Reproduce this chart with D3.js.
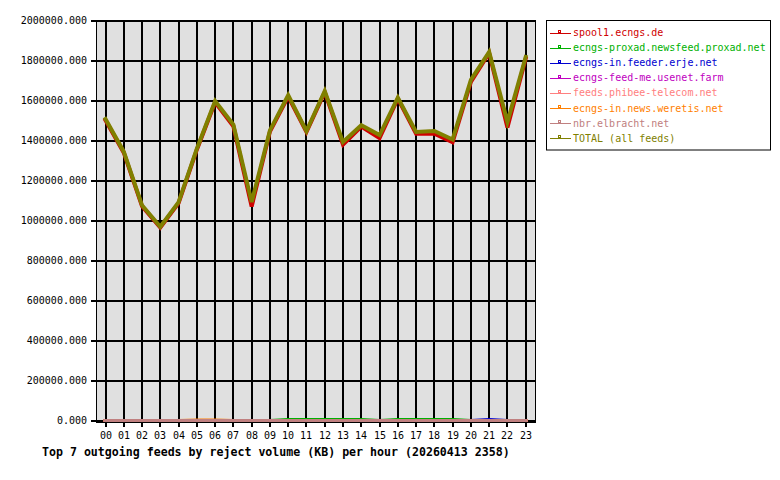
<!DOCTYPE html>
<html>
<head>
<meta charset="utf-8">
<script src="https://cdn.jsdelivr.net/npm/d3@7/dist/d3.min.js"></script>
<style>
  html, body { margin: 0; padding: 0; background: #ffffff; }
  svg { display: block; }
</style>
</head>
<body>
<script>
// ---- data ----
const hours = ["00","01","02","03","04","05","06","07","08","09","10","11","12","13","14","15","16","17","18","19","20","21","22","23"];
const yTicks = [0, 200000, 400000, 600000, 800000, 1000000, 1200000, 1400000, 1600000, 1800000, 2000000];

const seriesNames = [
  "spool1.ecngs.de",
  "ecngs-proxad.newsfeed.proxad.net",
  "ecngs-in.feeder.erje.net",
  "ecngs-feed-me.usenet.farm",
  "feeds.phibee-telecom.net",
  "ecngs-in.news.weretis.net",
  "nbr.elbracht.net",
  "TOTAL (all feeds)"
];
const seriesColors = ["#d00000", "#00b000", "#0000d0", "#c000c0", "#ff8080", "#ff8000", "#c08080", "#808000"];

const spool1 = [1502000, 1340000, 1072000, 966000, 1088000, 1355000, 1592000, 1472000, 1071000, 1445000, 1620000, 1443000, 1642000, 1380000, 1470000, 1413000, 1610000, 1435000, 1435000, 1392000, 1693000, 1838000, 1466000, 1810000];
const proxad = [0, 0, 0, 0, 0, 0, 0, 0, 0, 0, 5500, 5500, 5500, 5500, 5500, 0, 5500, 5500, 5500, 5500, 0, 0, 0, 0];
const erje = [0, 0, 0, 0, 0, 0, 0, 0, 0, 0, 0, 0, 0, 0, 0, 0, 0, 0, 0, 0, 0, 5500, 0, 0];
const usenetFarm = [0, 0, 0, 0, 0, 0, 0, 0, 0, 0, 0, 0, 0, 0, 0, 0, 0, 0, 0, 0, 0, 0, 0, 0];
const phibee = [0, 0, 0, 0, 0, 0, 0, 0, 0, 0, 0, 0, 0, 0, 0, 0, 0, 0, 0, 0, 0, 0, 0, 0];
const weretis = [0, 0, 0, 0, 0, 3000, 3000, 0, 0, 0, 0, 0, 0, 0, 0, 0, 0, 0, 0, 0, 0, 0, 0, 0];
const elbracht = [0, 0, 0, 0, 0, 0, 0, 0, 0, 0, 0, 0, 0, 0, 0, 0, 0, 0, 0, 0, 0, 0, 0, 0];
const total = [1508000, 1345000, 1077000, 970000, 1093000, 1360000, 1598000, 1480000, 1093000, 1451000, 1627000, 1448000, 1648000, 1393000, 1477000, 1428000, 1615000, 1443000, 1448000, 1406000, 1703000, 1843000, 1493000, 1818000];

const seriesValues = [spool1, proxad, erje, usenetFarm, phibee, weretis, elbracht, total];
const title = "Top 7 outgoing feeds by reject volume (KB) per hour (20260413 2358)";

// ---- drawing ----
const W = 780, H = 480;
const plot = { left: 96, right: 536, top: 20, bottom: 423 };
const mono = "'DejaVu Sans Mono', 'Liberation Mono', monospace";

const svg = d3.select("body").append("svg").attr("width", W).attr("height", H);
svg.append("rect").attr("width", W).attr("height", H).attr("fill", "#ffffff");

const x = d3.scaleLinear().domain([0, hours.length - 1]).range([105.5, 525.7]);
const y = d3.scaleLinear().domain([0, 2000000]).range([421, 20.5]);
const pr = v => Math.round(v);

svg.append("rect")
  .attr("x", plot.left).attr("y", plot.top)
  .attr("width", plot.right - plot.left).attr("height", plot.bottom - plot.top)
  .attr("fill", "#e0e0e0");

// grid
const grid = svg.append("g").attr("stroke", "#000").attr("stroke-width", 2).attr("shape-rendering", "crispEdges");
grid.selectAll("line.h").data(yTicks).join("line")
  .attr("x1", plot.left).attr("x2", plot.right)
  .attr("y1", d => pr(y(d))).attr("y2", d => pr(y(d)));
grid.selectAll("line.v").data(hours).join("line")
  .attr("x1", (d, i) => pr(x(i))).attr("x2", (d, i) => pr(x(i)))
  .attr("y1", plot.top).attr("y2", plot.bottom);

// series lines
const line = d3.line().x((d, i) => x(i)).y(d => y(d)).curve(d3.curveLinear);
const lines = svg.append("g");
seriesValues.forEach((vals, k) => {
  lines.append("path")
    .attr("d", line(vals))
    .attr("fill", "none")
    .attr("stroke", seriesColors[k])
    .attr("stroke-width", 4)
    .attr("stroke-linejoin", "miter")
    .attr("stroke-linecap", "square");
});

// axes
const yAxis = d3.axisLeft(y).tickValues(yTicks).tickFormat(d3.format(".3f")).tickSize(5).tickPadding(4).offset(0);
const gy = svg.append("g").attr("transform", `translate(${plot.left},0)`).call(yAxis);
const xAxis = d3.axisBottom(x).tickValues(d3.range(hours.length)).tickFormat(i => hours[i]).tickSize(4).tickPadding(3).offset(0);
const gx = svg.append("g").attr("transform", `translate(0,${plot.bottom - 0.5})`).call(xAxis);
[gy, gx].forEach(g => {
  g.attr("font-family", mono).attr("font-size", 10);
  g.select(".domain").remove();
  g.selectAll(".tick line").attr("stroke", "#000").attr("stroke-width", 1.5).attr("shape-rendering", "crispEdges");
  g.selectAll(".tick text").attr("fill", "#000").attr("font-family", mono).attr("font-size", 10);
});
gy.selectAll(".tick").attr("transform", d => `translate(0,${pr(y(d))})`);
gx.selectAll(".tick").attr("transform", (d) => `translate(${pr(x(d))},0)`);
gx.selectAll(".tick text").attr("dy", "0.95em");

// border (left, bottom, right)
svg.append("path")
  .attr("d", `M${plot.left + 0.5},${plot.top} V${plot.bottom - 0.5} H${plot.right - 0.5} V${plot.top}`)
  .attr("fill", "none").attr("stroke", "#000").attr("stroke-width", 1.5).attr("shape-rendering", "crispEdges");

// title
svg.append("text")
  .attr("x", 42).attr("y", 452)
  .attr("dominant-baseline", "central")
  .attr("font-family", mono).attr("font-weight", "bold").attr("font-size", 11.6)
  .attr("fill", "#000")
  .text(title);

// legend
const lg = svg.append("g");
lg.append("rect").attr("x", 546.5).attr("y", 20.5).attr("width", 224).attr("height", 129.5)
  .attr("fill", "#fff").attr("stroke", "#000").attr("stroke-width", 1);
const ly = d3.scaleLinear().domain([0, seriesNames.length - 1]).range([32.5, 138.3]);
seriesNames.forEach((name, k) => {
  const yy = ly(k);
  lg.append("line").attr("x1", 550).attr("x2", 571).attr("y1", Math.round(yy) + 0.5).attr("y2", Math.round(yy) + 0.5)
    .attr("stroke", seriesColors[k]).attr("stroke-width", 1);
  lg.append("rect").attr("x", 558.5).attr("y", Math.round(yy) - 2.5).attr("width", 2).attr("height", 2)
    .attr("fill", "none").attr("stroke", seriesColors[k]).attr("stroke-width", 1);
  lg.append("text").attr("x", 573).attr("y", yy)
    .attr("dominant-baseline", "central")
    .attr("font-family", mono).attr("font-size", 10)
    .attr("fill", seriesColors[k])
    .text(name);
});
</script>
</body>
</html>
